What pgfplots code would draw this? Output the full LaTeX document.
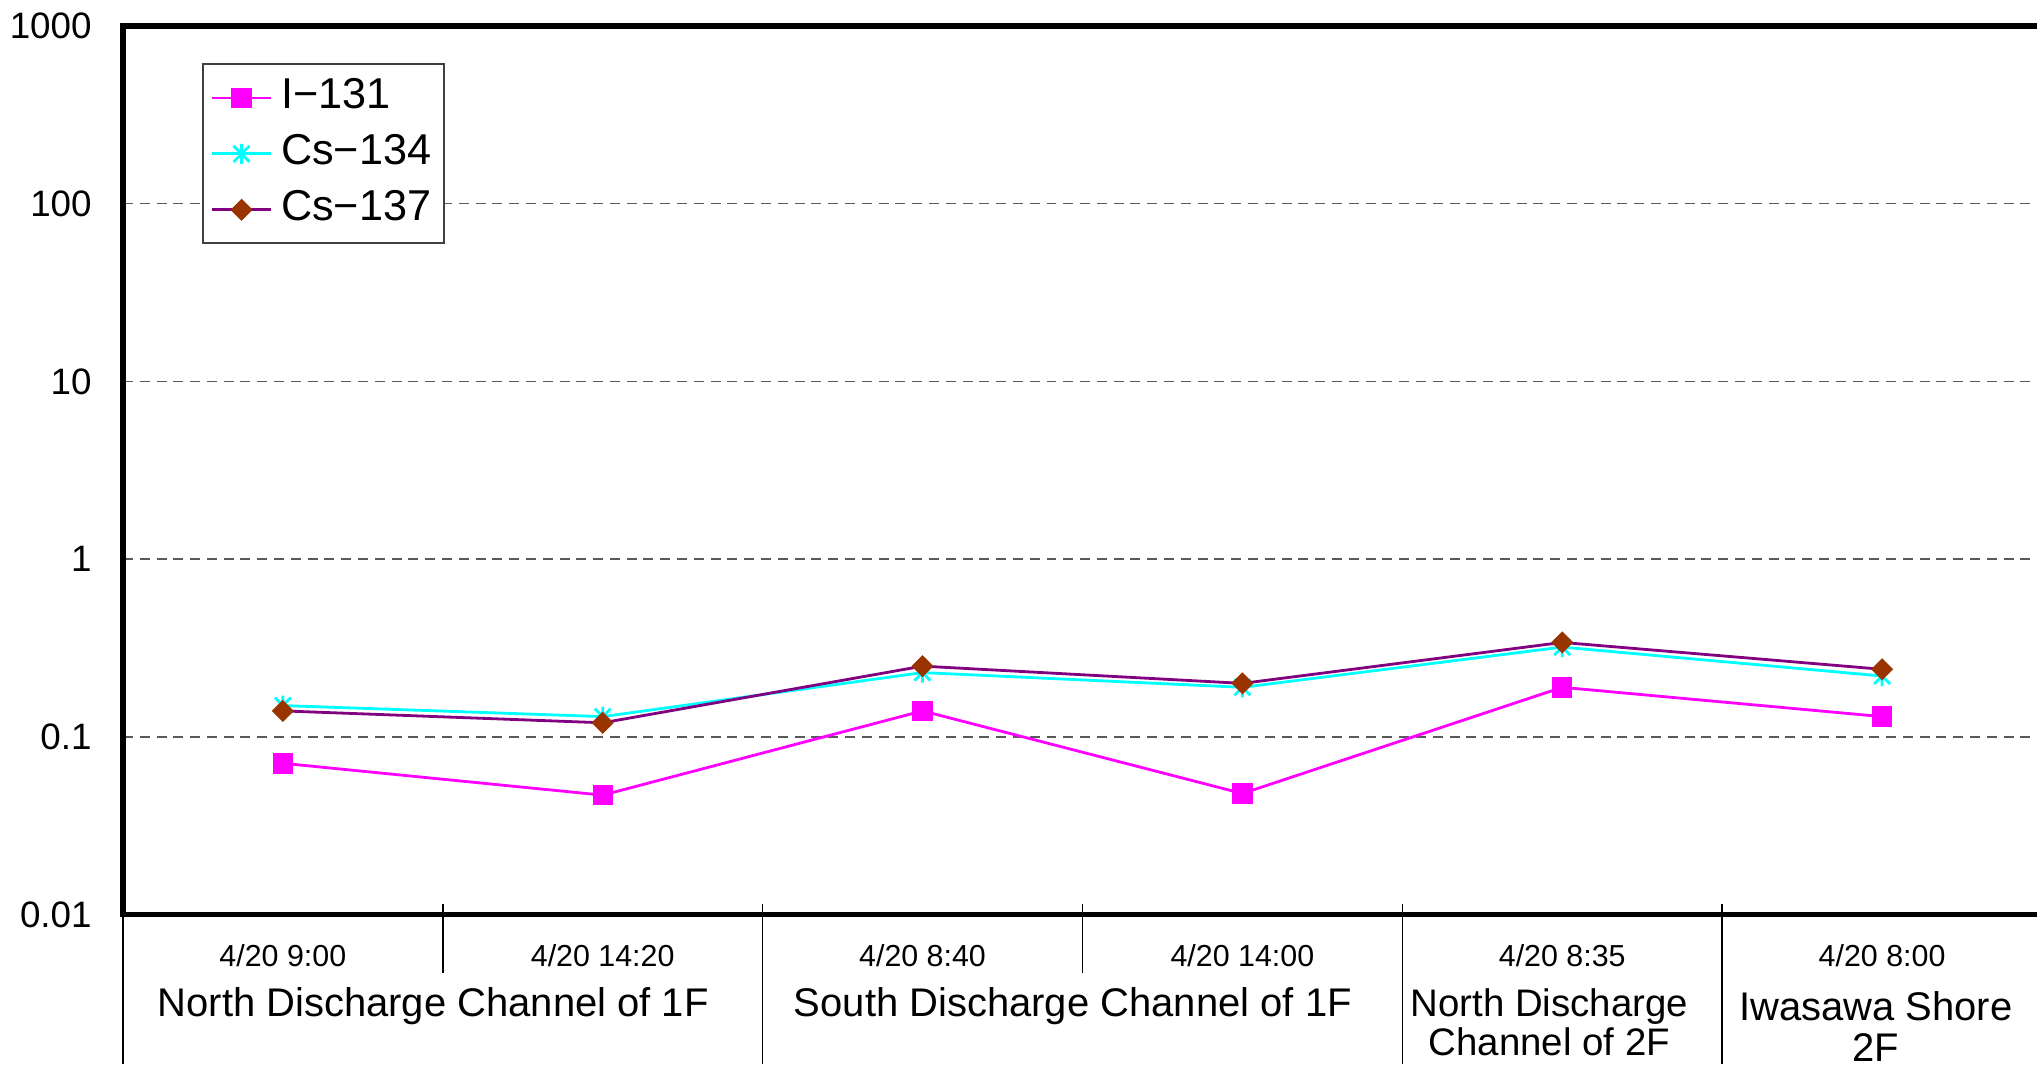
\documentclass[border=0pt]{standalone}
\usepackage{fontspec}
\setmainfont{Liberation Sans}
\usepackage{pgfplots}
\pgfplotsset{compat=1.18}

\definecolor{iod}{HTML}{FF00FF}
\definecolor{csa}{HTML}{00FFFF}
\definecolor{csbline}{HTML}{800080}
\definecolor{csbmark}{HTML}{993300}

% asterisk: one upright stroke and an X
\pgfdeclareplotmark{xstar}{%
  \pgfpathmoveto{\pgfqpoint{0pt}{\pgfplotmarksize}}%
  \pgfpathlineto{\pgfqpoint{0pt}{-\pgfplotmarksize}}%
  \pgfpathmoveto{\pgfqpoint{-.8\pgfplotmarksize}{-.8\pgfplotmarksize}}%
  \pgfpathlineto{\pgfqpoint{.8\pgfplotmarksize}{.8\pgfplotmarksize}}%
  \pgfpathmoveto{\pgfqpoint{-.8\pgfplotmarksize}{.8\pgfplotmarksize}}%
  \pgfpathlineto{\pgfqpoint{.8\pgfplotmarksize}{-.8\pgfplotmarksize}}%
  \pgfusepathqstroke}

\begin{document}
\begin{tikzpicture}
\begin{axis}[
    name=ax,
    scale only axis,
    width=480pt, height=222.25pt,
    xmin=-0.5, xmax=5.5,
    ymode=log, ymin=0.01, ymax=1000,
    ytick={0.01,0.1,1,10,100,1000},
    yticklabels={0.01,0.1,1,10,100,1000},
    yminorticks=false,
    xtick={0,...,5},
    xticklabels={4/20 9:00,4/20 14:20,4/20 8:40,4/20 14:00,4/20 8:35,4/20 8:00},
    major tick length=0pt,
    /pgf/number format/assume math mode=true,
    yticklabel style={font=\fontsize{9.2}{10}\selectfont, xshift=-4.3pt},
    xticklabel style={font=\fontsize{7.6}{8}\selectfont, anchor=center, yshift=-10.25pt},
    ymajorgrids,
    major grid style={draw=black!65, line width=0.35pt, dash pattern=on 2.5pt off 1.7pt},
    axis line style={line width=1.3pt},
    clip=false,
    legend cell align=left,
    legend image code/.code={\draw[mark repeat=2,mark phase=2]
        plot coordinates {(0pt,0pt) (7.4pt,0pt) (14.75pt,0pt)};},
    legend style={at={(0.041,0.958)}, anchor=north west, draw=black!75,
        line width=0.5pt, font=\fontsize{10.8}{12}\selectfont,
        row sep=1.2pt, inner xsep=2pt, inner ysep=2pt,
        nodes={inner sep=1.2pt, text height=7.9pt, text depth=2.5pt},
        /tikz/every odd column/.append style={column sep=1pt}},
]
\addplot[color=iod, line width=0.7pt, mark=square*, mark size=2.2pt,
    mark options={fill=iod, draw=iod}]
    coordinates {(0,0.071) (1,0.047) (2,0.14) (3,0.048) (4,0.19) (5,0.13)};
\addlegendentry{I−131}
\addplot[color=csa, line width=0.7pt, mark=xstar, mark size=2.5pt,
    mark options={draw=csa}]
    coordinates {(0,0.15) (1,0.13) (2,0.23) (3,0.19) (4,0.32) (5,0.22)};
\addlegendentry{Cs−134}
\addplot[color=csbline, line width=0.7pt, mark=square*, mark size=1.6pt,
    mark options={fill=csbmark, draw=csbmark, rotate=45}]
    coordinates {(0,0.14) (1,0.12) (2,0.25) (3,0.20) (4,0.34) (5,0.24)};
\addlegendentry{Cs−137}

% category separators below the plot
\draw[line width=0.4pt] ([yshift=2.75pt]axis cs:-0.5,0.01) -- ([yshift=-37.25pt]axis cs:-0.5,0.01);
\draw[line width=0.4pt] ([yshift=2.75pt]axis cs:0.5,0.01) -- ([yshift=-14.5pt]axis cs:0.5,0.01);
\draw[line width=0.4pt] ([yshift=2.75pt]axis cs:1.5,0.01) -- ([yshift=-37.25pt]axis cs:1.5,0.01);
\draw[line width=0.4pt] ([yshift=2.75pt]axis cs:2.5,0.01) -- ([yshift=-14.5pt]axis cs:2.5,0.01);
\draw[line width=0.4pt] ([yshift=2.75pt]axis cs:3.5,0.01) -- ([yshift=-37.25pt]axis cs:3.5,0.01);
\draw[line width=0.4pt] ([yshift=2.75pt]axis cs:4.5,0.01) -- ([yshift=-37.25pt]axis cs:4.5,0.01);

% sampling places
\node[font=\fontsize{10}{11}\selectfont] at (axis cs:0.47,0.01) [yshift=-23pt]
    {North Discharge Channel of 1F};
\node[font=\fontsize{10}{11}\selectfont] at (axis cs:2.47,0.01) [yshift=-23pt]
    {South Discharge Channel of 1F};
\node[font=\fontsize{9.6}{9.8}\selectfont, align=center, inner sep=0pt]
    at (axis cs:3.96,0.01) [yshift=-27pt] {North Discharge\\Channel of 2F};
\node[font=\fontsize{10}{10.4}\selectfont, align=center, inner sep=0pt]
    at (axis cs:4.98,0.01) [yshift=-28pt] {Iwasawa Shore\\2F};
\end{axis}
\pgfresetboundingbox
\useasboundingbox ([xshift=-30.75pt,yshift=-39.75pt]ax.south west)
    rectangle ([xshift=-1.25pt,yshift=6.5pt]ax.north east);
\end{tikzpicture}
\end{document}
